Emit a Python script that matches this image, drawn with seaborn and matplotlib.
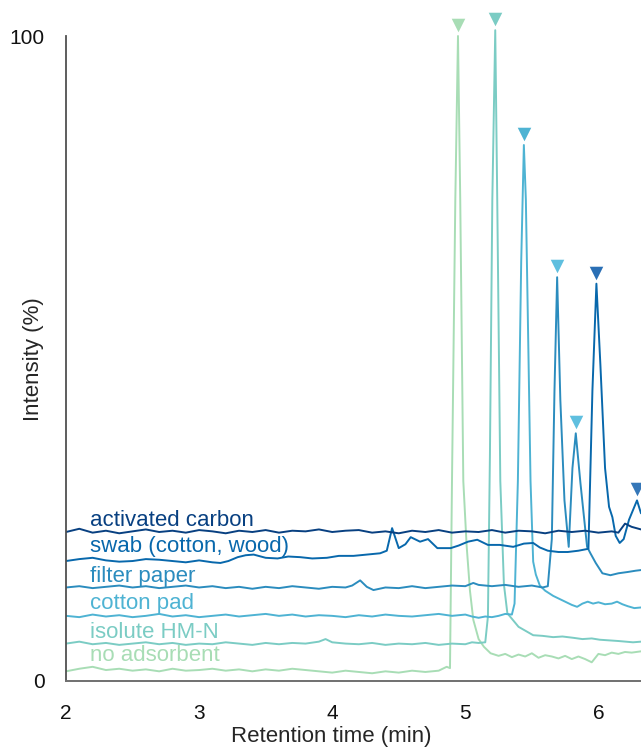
import numpy as np
import pandas as pd
import seaborn as sns
import matplotlib.pyplot as plt

# trace names, top to bottom, and their colours
samples = ['activated carbon', 'swab (cotton, wood)', 'filter paper',
           'cotton pad', 'isolute HM-N', 'no adsorbent']
colors = ['#084081', '#0868ac', '#2b8cbe', '#4eb3d3', '#7bccc4', '#a8ddb5']

# activated carbon
t_carbon = [2.0, 2.1, 2.2, 2.3, 2.4, 2.5, 2.6, 2.7, 2.8, 2.9, 3.0, 3.1, 3.2, 3.3, 3.4,
            3.5, 3.6, 3.7, 3.8, 3.9, 4.0, 4.1, 4.2, 4.3, 4.4, 4.5, 4.6, 4.7, 4.8, 4.9,
            5.0, 5.1, 5.2, 5.3, 5.4, 5.5, 5.6, 5.7, 5.8, 5.9, 6.0, 6.1, 6.15, 6.2, 6.25, 6.32]
i_carbon = [23.1, 23.6, 23.0, 23.3, 22.9, 23.2, 23.5, 23.1, 23.3, 23.0, 23.4, 23.2, 22.9, 23.3, 23.1,
            23.4, 23.0, 23.3, 23.2, 23.5, 23.1, 23.3, 23.4, 23.0, 23.2, 22.9, 23.3, 23.1, 23.4, 23.0,
            23.2, 23.1, 23.4, 23.0, 23.3, 23.2, 22.9, 23.3, 23.1, 23.3, 23.0, 23.2, 23.0, 24.4, 23.9, 23.5]

# swab (cotton, wood)
t_swab = [2.0, 2.1, 2.2, 2.3, 2.4, 2.5, 2.6, 2.7, 2.8, 2.9, 3.0, 3.1, 3.16, 3.22, 3.29,
          3.35, 3.41, 3.5, 3.59, 3.67, 3.76, 3.85, 3.96, 4.05, 4.16, 4.26, 4.36, 4.41, 4.45, 4.5,
          4.55, 4.59, 4.66, 4.72, 4.79, 4.89, 4.95, 5.02, 5.09, 5.17, 5.26, 5.36, 5.44, 5.51, 5.56,
          5.62, 5.7, 5.77, 5.85, 5.925, 5.955, 5.985, 6.015, 6.05, 6.08, 6.105, 6.13, 6.16, 6.19,
          6.23, 6.29, 6.32]
i_swab = [18.6, 18.9, 19.1, 18.7, 18.5, 18.6, 18.9, 18.8, 18.6, 18.4, 18.7, 18.4, 18.3, 18.6, 19.2,
          19.5, 19.6, 19.1, 19.0, 19.3, 19.2, 19.0, 19.1, 19.4, 19.4, 19.6, 19.8, 20.2, 23.7, 20.6,
          21.2, 22.3, 21.6, 22.0, 20.6, 20.6, 21.0, 21.6, 21.9, 21.1, 21.1, 20.8, 21.3, 21.4, 20.7,
          20.2, 20.0, 20.0, 20.2, 20.5, 45.0, 61.6, 49.0, 33.0, 27.0, 25.4, 22.5, 21.4, 22.0,
          25.0, 28.0, 26.0]

# filter paper
t_filter = [2.0, 2.1, 2.2, 2.3, 2.4, 2.5, 2.6, 2.7, 2.8, 2.9, 3.0, 3.1, 3.2, 3.3, 3.4,
            3.5, 3.6, 3.7, 3.8, 3.9, 4.0, 4.1, 4.15, 4.21, 4.26, 4.31, 4.4, 4.5, 4.6, 4.7,
            4.8, 4.9, 5.0, 5.06, 5.1, 5.2, 5.3, 5.4, 5.5, 5.58, 5.62, 5.65, 5.67, 5.69, 5.714,
            5.745, 5.777, 5.805, 5.83, 5.865, 5.915, 5.94, 5.98, 6.03, 6.09, 6.15, 6.22, 6.28, 6.32]
i_filter = [14.5, 14.7, 14.4, 14.6, 14.8, 14.5, 14.7, 14.4, 14.6, 14.8, 14.5, 14.7, 14.4, 14.6, 14.3,
            14.6, 14.4, 14.7, 14.5, 14.3, 14.6, 14.5, 14.8, 15.6, 14.6, 14.1, 14.5, 14.4, 14.7, 14.4,
            14.6, 14.8, 14.7, 15.2, 14.9, 14.7, 14.9, 14.6, 14.8, 14.5, 14.7, 22.0, 45.0, 62.6, 43.6,
            28.0, 20.8, 33.0, 38.4, 30.7, 20.8, 19.8, 18.3, 16.7, 16.4, 16.7, 16.9, 17.1, 17.2]

# cotton pad
t_cotton = [2.0, 2.1, 2.2, 2.3, 2.4, 2.5, 2.6, 2.7, 2.8, 2.9, 3.0, 3.1, 3.2, 3.3, 3.4,
            3.5, 3.6, 3.7, 3.8, 3.9, 4.0, 4.1, 4.2, 4.3, 4.4, 4.5, 4.6, 4.7, 4.8, 4.9,
            5.0, 5.05, 5.1, 5.15, 5.2, 5.25, 5.3, 5.35, 5.37, 5.395, 5.42, 5.44, 5.455, 5.475, 5.49,
            5.51, 5.53, 5.56, 5.6, 5.63, 5.66, 5.7, 5.75, 5.8, 5.84, 5.88, 5.92, 5.96, 6.0,
            6.05, 6.1, 6.14, 6.18, 6.22, 6.27, 6.32]
i_cotton = [10.1, 9.9, 10.3, 10.0, 10.2, 9.9, 10.1, 10.4, 10.0, 10.2, 9.9, 10.1, 10.3, 10.0, 10.2,
            10.4, 10.1, 10.3, 10.0, 10.2, 10.1, 9.9, 10.2, 10.0, 10.3, 10.1, 10.0, 10.2, 10.4, 10.1,
            10.3, 10.0, 9.8, 10.0, 9.9, 10.1, 10.4, 10.3, 12.0, 31.0, 65.0, 83.1, 74.6, 50.0, 31.0,
            18.5, 16.5, 14.8, 14.0, 13.6, 13.2, 12.8, 12.3, 11.8, 11.5, 12.0, 12.3, 12.0, 12.2,
            11.9, 12.0, 12.3, 11.9, 11.6, 11.3, 11.4]

# isolute HM-N
t_isolute = [2.0, 2.1, 2.2, 2.3, 2.4, 2.5, 2.6, 2.7, 2.8, 2.9, 3.0, 3.1, 3.2, 3.3, 3.4,
             3.5, 3.6, 3.7, 3.8, 3.9, 3.95, 4.0, 4.1, 4.2, 4.3, 4.4, 4.5, 4.6, 4.7, 4.8,
             4.9, 5.0, 5.05, 5.1, 5.15, 5.17, 5.185, 5.203, 5.225, 5.24, 5.263, 5.29, 5.316, 5.4, 5.51,
             5.58, 5.66, 5.73, 5.81, 5.88, 5.95, 6.01, 6.08, 6.15, 6.26, 6.32]
i_isolute = [5.8, 6.1, 5.7, 5.9, 5.6, 5.8, 6.0, 5.7, 5.9, 5.6, 5.8, 5.7, 6.0, 5.8, 5.6,
             5.9, 5.7, 5.9, 5.8, 6.1, 6.5, 6.0, 5.8, 5.7, 5.9, 5.6, 5.8, 5.7, 5.9, 5.6,
             5.8, 5.7, 6.0, 5.9, 6.0, 10.0, 35.0, 74.6, 100.9, 74.6, 31.0, 15.0, 10.5, 8.4, 7.1,
             7.0, 6.8, 6.9, 6.7, 6.5, 6.6, 6.4, 6.3, 6.2, 6.0, 6.1]

# no adsorbent
t_none = [2.0, 2.1, 2.2, 2.3, 2.4, 2.5, 2.6, 2.7, 2.8, 2.9, 3.0, 3.1, 3.2, 3.3, 3.4,
          3.5, 3.6, 3.7, 3.8, 3.9, 4.0, 4.1, 4.2, 4.3, 4.4, 4.5, 4.6, 4.7, 4.8, 4.86,
          4.885, 4.9, 4.925, 4.945, 4.962, 4.975, 4.985, 5.01, 5.035, 5.06, 5.1, 5.14, 5.19, 5.25, 5.3,
          5.35, 5.4, 5.45, 5.5, 5.55, 5.6, 5.65, 5.7, 5.75, 5.8, 5.85, 5.9, 5.95, 6.0,
          6.05, 6.1, 6.15, 6.2, 6.25, 6.32]
i_none = [1.5, 1.9, 2.2, 1.7, 1.9, 1.6, 1.8, 1.5, 1.9, 1.6, 1.7, 1.9, 1.6, 1.8, 1.5,
          1.8, 1.6, 1.9, 1.7, 1.5, 1.3, 1.6, 1.4, 1.2, 1.5, 1.3, 1.6, 1.4, 1.6, 2.2,
          2.0, 31.0, 74.6, 100.0, 74.6, 50.0, 31.0, 21.0, 14.0, 9.5, 6.5, 5.3, 4.3, 3.9, 4.2,
          3.7, 4.1, 3.8, 4.3, 3.6, 4.0, 3.8, 3.5, 3.9, 3.4, 3.8, 3.4, 2.9, 4.2,
          4.0, 4.4, 4.2, 4.5, 4.4, 4.6]

# marked peaks: retention time, trace, marker colour
peak_times = [4.945, 5.225, 5.44, 5.69, 5.83, 5.985, 6.29]
peak_samples = ['no adsorbent', 'isolute HM-N', 'cotton pad', 'filter paper',
                'filter paper', 'swab (cotton, wood)', 'swab (cotton, wood)']
peak_colors = ['#a8ddb5', '#7bccc4', '#4eb3d3', '#5fbfdf', '#5fbfdf', '#2a6fb5', '#3577b8']

traces = {
    'activated carbon': (t_carbon, i_carbon),
    'swab (cotton, wood)': (t_swab, i_swab),
    'filter paper': (t_filter, i_filter),
    'cotton pad': (t_cotton, i_cotton),
    'isolute HM-N': (t_isolute, i_isolute),
    'no adsorbent': (t_none, i_none),
}

frames = []
for name in samples:
    t, y = traces[name]
    frames.append(pd.DataFrame({'time': t, 'intensity': y, 'sample': name}))
df = pd.concat(frames, ignore_index=True)

peaks = pd.DataFrame({'time': peak_times, 'sample': peak_samples})
peaks['intensity'] = [np.interp(pt, *traces[s]) + 1.7 for pt, s in zip(peak_times, peak_samples)]

sns.set_style('white')
plt.rcParams['font.family'] = ['Liberation Sans', 'DejaVu Sans']

fig = plt.figure(figsize=(6.41, 7.48), dpi=100)
ax = fig.add_axes([66 / 641, 67 / 748, 575 / 641, 681 / 748])

palette = dict(zip(samples, colors))
sns.lineplot(data=df, x='time', y='intensity', hue='sample', palette=palette,
             hue_order=samples[::-1], estimator=None, linewidth=1.4, legend=False, ax=ax)

for (_, row), c in zip(peaks.iterrows(), peak_colors):
    ax.scatter(row['time'], row['intensity'], marker='v', s=95, color=c, linewidths=0, zorder=5)

# labels just above each trace
label_x = 2.18
for name, c in zip(samples, colors):
    t, y = traces[name]
    ax.text(label_x, np.interp(label_x, t, y) + 0.9, name, color=c, fontsize=16,
            ha='left', va='baseline')

ax.set_xlim(2, 2 + 575 / 133.1)
ax.set_ylim(0, 681 / 6.45)
ax.set_xticks([2, 3, 4, 5, 6])
ax.set_yticks([0, 100])
ax.set_xlabel('Retention time (min)', fontsize=16)
ax.set_ylabel('Intensity (%)', fontsize=16)
ax.xaxis.set_label_coords(0.461, -0.066)
ax.yaxis.set_label_coords(-0.038, 0.473)

ax.tick_params(axis='both', direction='out', length=8.5, width=1.1, color='#b5b5b5',
               labelsize=15, labelcolor='#111111')
ax.tick_params(axis='x', pad=8)
ax.tick_params(axis='y', pad=7)

for side in ['top', 'right']:
    ax.spines[side].set_visible(False)
ax.spines['left'].set_color('#505050')
ax.spines['left'].set_linewidth(1.3)
ax.spines['left'].set_bounds(0, 100)
ax.spines['bottom'].set_color('#707070')
ax.spines['bottom'].set_linewidth(1.4)

fig.savefig('out.png', dpi=100)
